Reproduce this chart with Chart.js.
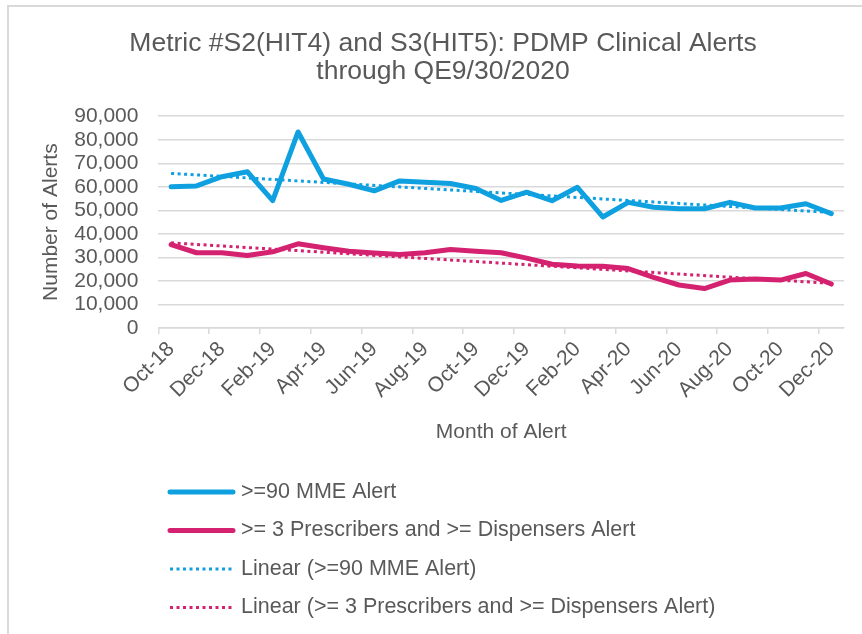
<!DOCTYPE html>
<html>
<head>
<meta charset="utf-8">
<title>PDMP Clinical Alerts</title>
<script src="https://cdn.jsdelivr.net/npm/chart.js@4/dist/chart.umd.min.js"></script>
<style>
  body { margin: 0; background: #fff; }
  #wrap { position: relative; width: 862px; height: 634px; overflow: hidden; }
  #frame { position: absolute; left: 7px; top: 5px; width: 900px; height: 700px;
           border-left: 2px solid #d9d9d9; border-top: 2px solid #d9d9d9; }
  canvas { position: absolute; left: 0; top: 0; }
</style>
</head>
<body>
<div id="wrap">
  <div id="frame"></div>
  <canvas id="alertsChart" width="862" height="634"></canvas>
</div>
<script>
// months Oct-18 .. Dec-20
const months = [
  'Oct-18', 'Nov-18', 'Dec-18',
  'Jan-19', 'Feb-19', 'Mar-19', 'Apr-19', 'May-19', 'Jun-19',
  'Jul-19', 'Aug-19', 'Sep-19', 'Oct-19', 'Nov-19', 'Dec-19',
  'Jan-20', 'Feb-20', 'Mar-20', 'Apr-20', 'May-20', 'Jun-20',
  'Jul-20', 'Aug-20', 'Sep-20', 'Oct-20', 'Nov-20', 'Dec-20'
];

// >=90 MME Alert
const mmeAlerts = [
  60000, 60400, 64300, 66400, 54100, 83300, 63300, 61100, 58300,
  62500, 61900, 61400, 59300, 54200, 57700, 54100, 59800, 47200,
  53400, 51300, 50700, 50700, 53400, 51000, 51000, 52800, 48600
];

// >= 3 Prescribers and >= Dispensers Alert
const prescriberAlerts = [
  35500, 32000, 32000, 30800, 32400, 35800, 34100, 32600, 31900,
  31300, 32000, 33400, 32600, 32000, 29700, 27100, 26400, 26300,
  25300, 21500, 18300, 16800, 20400, 20800, 20400, 23200, 18700
];

// linear trend lines, start and end values
const trendMME = [65700, 49100];
const trendPrescriber = [36200, 19000];

const yTicks = [0, 90000, 10000]; // min, max, step

const blue = '#0FA0E0';
const pink = '#D42270';
const textGrey = '#595959';
const gridGrey = '#d9d9d9';
const fontFamily = "'Liberation Sans', Arial, sans-serif";

function trendPoints(ends) {
  return [
    { x: months[0], y: ends[0] },
    { x: months[months.length - 1], y: ends[1] }
  ];
}

// legend drawn as a stacked list under the axis, like the Excel original
const stackedLegend = {
  id: 'stackedLegend',
  afterDraw(chart, args, opts) {
    const ctx = chart.ctx;
    chart.data.datasets.forEach((ds, i) => {
      const y = opts.top + i * opts.rowGap;
      ctx.save();
      ctx.strokeStyle = ds.borderColor;
      ctx.lineWidth = ds.borderWidth;
      ctx.lineCap = ds.borderCapStyle || 'butt';
      ctx.setLineDash(ds.borderDash || []);
      ctx.beginPath();
      ctx.moveTo(opts.left, y);
      ctx.lineTo(opts.left + opts.sampleWidth, y);
      ctx.stroke();
      ctx.setLineDash([]);
      ctx.fillStyle = textGrey;
      ctx.font = opts.font;
      ctx.textBaseline = 'middle';
      ctx.fillText(ds.label, opts.left + opts.sampleWidth + opts.gap, y);
      ctx.restore();
    });
  }
};

const ctx = document.getElementById('alertsChart').getContext('2d');

new Chart(ctx, {
  type: 'line',
  data: {
    labels: months,
    datasets: [
      {
        label: '>=90 MME Alert',
        data: mmeAlerts,
        borderColor: blue,
        backgroundColor: blue,
        borderWidth: 5,
        borderCapStyle: 'round',
        borderJoinStyle: 'round',
        pointRadius: 0,
        tension: 0
      },
      {
        label: '>= 3 Prescribers and >= Dispensers Alert',
        data: prescriberAlerts,
        borderColor: pink,
        backgroundColor: pink,
        borderWidth: 5,
        borderCapStyle: 'round',
        borderJoinStyle: 'round',
        pointRadius: 0,
        tension: 0
      },
      {
        label: 'Linear (>=90 MME Alert)',
        data: trendPoints(trendMME),
        borderColor: blue,
        borderWidth: 3,
        borderDash: [3, 3.5],
        pointRadius: 0,
        order: -1
      },
      {
        label: 'Linear (>= 3 Prescribers and >= Dispensers Alert)',
        data: trendPoints(trendPrescriber),
        borderColor: pink,
        borderWidth: 3,
        borderDash: [3, 3.5],
        pointRadius: 0,
        order: -1
      }
    ]
  },
  options: {
    responsive: false,
    animation: false,
    layout: {
      padding: { top: 14, left: 42, right: 18, bottom: 185 }
    },
    scales: {
      x: {
        offset: true,
        grid: {
          offset: true,
          drawOnChartArea: false,
          drawTicks: true,
          tickLength: 6,
          lineWidth: 1.5,
          color: c => (c.index % 2 === 0 && c.index < months.length) ? gridGrey : 'rgba(0,0,0,0)'
        },
        border: { display: true, color: gridGrey, width: 1.5 },
        ticks: {
          autoSkip: false,
          maxRotation: 45,
          minRotation: 45,
          color: textGrey,
          font: { family: fontFamily, size: 21 },
          callback: (v, i) => (i % 2 === 0 ? months[i] : '')
        },
        title: {
          display: true,
          text: 'Month of Alert',
          color: textGrey,
          font: { family: fontFamily, size: 21 },
          padding: { top: 14, bottom: 4 }
        }
      },
      y: {
        min: yTicks[0],
        max: yTicks[1],
        grid: { color: gridGrey, lineWidth: 1.5, drawTicks: false },
        border: { display: false },
        ticks: {
          stepSize: yTicks[2],
          autoSkip: false,
          padding: 20,
          color: textGrey,
          font: { family: fontFamily, size: 21, lineHeight: 1 },
          callback: v => v.toLocaleString('en-US')
        },
        title: {
          display: true,
          text: 'Number of Alerts',
          color: textGrey,
          font: { family: fontFamily, size: 21 },
          padding: { top: -3, bottom: -10 }
        }
      }
    },
    plugins: {
      legend: { display: false },
      tooltip: { enabled: false },
      title: {
        display: true,
        text: ['Metric #S2(HIT4) and S3(HIT5): PDMP Clinical Alerts', 'through QE9/30/2020'],
        color: textGrey,
        font: { family: fontFamily, size: 26.5, weight: 'normal', lineHeight: 1.06 },
        padding: { top: 16, bottom: 30 }
      },
      stackedLegend: {
        left: 170,
        top: 492,
        rowGap: 38.5,
        sampleWidth: 63,
        gap: 8,
        font: '21.5px ' + fontFamily
      }
    }
  },
  plugins: [stackedLegend]
});
</script>
</body>
</html>
